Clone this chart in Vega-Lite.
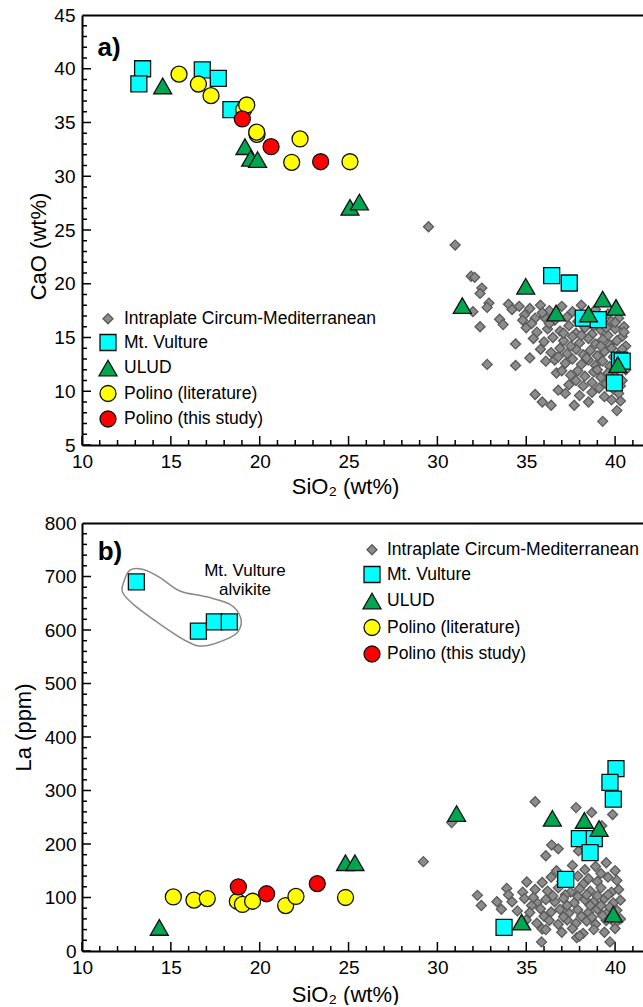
{
  "$schema": "https://vega.github.io/schema/vega-lite/v6.json",
  "padding": {"left": 12, "top": 6, "right": 0, "bottom": 0},
  "bounds": "flush",
  "spacing": 78,
  "resolve": {"scale": {"shape": "independent", "fill": "independent", "stroke": "independent", "size": "independent"}},
  "config": {
    "view": {"stroke": null},
    "font": "Liberation Sans",
    "axis": {
      "domainColor": "black", "domainWidth": 2, "ticks": false,
      "labelFontSize": 19, "labelColor": "black", "labelFont": "Liberation Sans",
      "titleFontSize": 22, "titleFontWeight": "normal", "titleColor": "black", "titleFont": "Liberation Sans",
      "labelFlush": false, "labelOverlap": false, "labelBound": false, "titleBaseline": "middle"
    },
    "legend": {
      "orient": "none", "title": null, "padding": 0, "labelFontSize": 17.5, "labelColor": "black",
      "labelFont": "Liberation Sans", "rowPadding": 3.5, "labelOffset": 6, "symbolStrokeWidth": 1.3, "labelLimit": 500
    }
  },
  "datasets": {
    "xmaj": [{"v":10},{"v":15},{"v":20},{"v":25},{"v":30},{"v":35},{"v":40}],
    "xmin": [{"v":11},{"v":12},{"v":13},{"v":14},{"v":16},{"v":17},{"v":18},{"v":19},{"v":21},{"v":22},{"v":23},{"v":24},{"v":26},{"v":27},{"v":28},{"v":29},{"v":31},{"v":32},{"v":33},{"v":34},{"v":36},{"v":37},{"v":38},{"v":39},{"v":41}],
    "yamaj": [{"v":5},{"v":10},{"v":15},{"v":20},{"v":25},{"v":30},{"v":35},{"v":40}],
    "yamin": [{"v":6},{"v":7},{"v":8},{"v":9},{"v":11},{"v":12},{"v":13},{"v":14},{"v":16},{"v":17},{"v":18},{"v":19},{"v":21},{"v":22},{"v":23},{"v":24},{"v":26},{"v":27},{"v":28},{"v":29},{"v":31},{"v":32},{"v":33},{"v":34},{"v":36},{"v":37},{"v":38},{"v":39},{"v":41},{"v":42},{"v":43},{"v":44}],
    "ybmaj": [{"v":0},{"v":100},{"v":200},{"v":300},{"v":400},{"v":500},{"v":600},{"v":700}],
    "ybmin": [{"v":20},{"v":40},{"v":60},{"v":80},{"v":120},{"v":140},{"v":160},{"v":180},{"v":220},{"v":240},{"v":260},{"v":280},{"v":320},{"v":340},{"v":360},{"v":380},{"v":420},{"v":440},{"v":460},{"v":480},{"v":520},{"v":540},{"v":560},{"v":580},{"v":620},{"v":640},{"v":660},{"v":680},{"v":720},{"v":740},{"v":760},{"v":780}],
    "a": [
      {"g":"I","x":29.5,"y":25.3},{"g":"I","x":31.0,"y":23.6},{"g":"I","x":31.9,"y":20.7},{"g":"I","x":32.1,"y":20.6},{"g":"I","x":32.5,"y":19.6},{"g":"I","x":32.4,"y":19.1},{"g":"I","x":32.9,"y":18.2},{"g":"I","x":32.8,"y":17.8},{"g":"I","x":32.0,"y":17.4},{"g":"I","x":32.4,"y":16.0},{"g":"I","x":32.8,"y":12.5},{"g":"I","x":33.5,"y":16.7},{"g":"I","x":33.7,"y":16.2},{"g":"I","x":34.0,"y":18.1},{"g":"I","x":34.2,"y":17.6},{"g":"I","x":34.4,"y":14.4},{"g":"I","x":34.4,"y":12.4},{"g":"I","x":35.2,"y":13.1},{"g":"I","x":35.5,"y":9.7},{"g":"I","x":35.9,"y":9.0},{"g":"I","x":36.4,"y":8.7},{"g":"I","x":37.7,"y":8.7},{"g":"I","x":38.5,"y":9.0},{"g":"I","x":39.3,"y":7.2},{"g":"I","x":40.1,"y":8.2},{"g":"I","x":40.3,"y":9.1},{"g":"I","x":36.8,"y":10.1},{"g":"I","x":36.7,"y":11.7},{"g":"I","x":36.1,"y":12.8},
      {"g":"I","x":34.6,"y":17.9},{"g":"I","x":35.2,"y":17.7},{"g":"I","x":35.8,"y":18.0},{"g":"I","x":36.3,"y":17.5},{"g":"I","x":37.0,"y":17.9},{"g":"I","x":37.6,"y":17.4},{"g":"I","x":38.1,"y":18.0},{"g":"I","x":38.9,"y":17.6},{"g":"I","x":39.6,"y":17.2},{"g":"I","x":40.2,"y":16.8},
      {"g":"I","x":34.9,"y":17.1},{"g":"I","x":35.5,"y":16.8},{"g":"I","x":36.0,"y":16.9},{"g":"I","x":36.6,"y":16.6},{"g":"I","x":37.3,"y":16.9},{"g":"I","x":37.9,"y":16.5},{"g":"I","x":38.4,"y":16.7},{"g":"I","x":39.1,"y":16.3},{"g":"I","x":39.8,"y":16.5},{"g":"I","x":40.5,"y":16.0},
      {"g":"I","x":35.0,"y":15.9},{"g":"I","x":35.6,"y":15.5},{"g":"I","x":36.2,"y":15.8},{"g":"I","x":36.9,"y":15.6},{"g":"I","x":37.4,"y":16.1},{"g":"I","x":37.8,"y":15.4},{"g":"I","x":38.3,"y":15.9},{"g":"I","x":38.7,"y":15.3},{"g":"I","x":39.2,"y":15.7},{"g":"I","x":39.6,"y":15.2},{"g":"I","x":40.0,"y":15.8},{"g":"I","x":40.4,"y":15.1},
      {"g":"I","x":35.4,"y":14.9},{"g":"I","x":36.0,"y":14.6},{"g":"I","x":36.5,"y":15.0},{"g":"I","x":37.1,"y":14.7},{"g":"I","x":37.6,"y":15.1},{"g":"I","x":38.0,"y":14.5},{"g":"I","x":38.5,"y":14.9},{"g":"I","x":38.9,"y":14.4},{"g":"I","x":39.3,"y":14.8},{"g":"I","x":39.7,"y":14.3},{"g":"I","x":40.1,"y":14.7},{"g":"I","x":40.6,"y":14.2},
      {"g":"I","x":35.8,"y":13.9},{"g":"I","x":36.4,"y":13.6},{"g":"I","x":36.9,"y":14.0},{"g":"I","x":37.3,"y":13.5},{"g":"I","x":37.8,"y":13.9},{"g":"I","x":38.2,"y":13.4},{"g":"I","x":38.6,"y":13.8},{"g":"I","x":39.0,"y":13.3},{"g":"I","x":39.4,"y":13.7},{"g":"I","x":39.9,"y":13.2},{"g":"I","x":40.3,"y":13.6},
      {"g":"I","x":36.6,"y":12.9},{"g":"I","x":37.2,"y":12.6},{"g":"I","x":37.6,"y":13.0},{"g":"I","x":38.1,"y":12.5},{"g":"I","x":38.5,"y":12.9},{"g":"I","x":38.9,"y":12.4},{"g":"I","x":39.3,"y":12.8},{"g":"I","x":39.7,"y":12.3},{"g":"I","x":40.2,"y":12.2},{"g":"I","x":40.5,"y":12.6},
      {"g":"I","x":37.0,"y":11.9},{"g":"I","x":37.5,"y":11.5},{"g":"I","x":37.9,"y":11.9},{"g":"I","x":38.3,"y":11.4},{"g":"I","x":38.8,"y":11.8},{"g":"I","x":39.2,"y":11.3},{"g":"I","x":39.6,"y":11.7},{"g":"I","x":40.0,"y":11.4},{"g":"I","x":40.4,"y":11.0},
      {"g":"I","x":37.4,"y":10.6},{"g":"I","x":37.8,"y":11.0},{"g":"I","x":38.2,"y":10.5},{"g":"I","x":38.7,"y":10.8},{"g":"I","x":39.1,"y":10.3},{"g":"I","x":39.5,"y":10.7},{"g":"I","x":39.9,"y":10.2},{"g":"I","x":40.3,"y":10.5},
      {"g":"I","x":37.2,"y":9.8},{"g":"I","x":38.0,"y":9.6},{"g":"I","x":38.7,"y":9.9},{"g":"I","x":39.4,"y":9.5},{"g":"I","x":39.8,"y":9.2},{"g":"I","x":40.2,"y":9.8},
      {"g":"I","x":39.5,"y":15.9},{"g":"I","x":40.0,"y":16.4},{"g":"I","x":40.5,"y":15.5},{"g":"I","x":39.2,"y":14.2},{"g":"I","x":39.8,"y":14.0},{"g":"I","x":40.4,"y":13.9},{"g":"I","x":38.8,"y":16.1},{"g":"I","x":38.1,"y":15.2},{"g":"I","x":37.5,"y":14.2},{"g":"I","x":36.8,"y":13.2},{"g":"I","x":40.6,"y":12.0},{"g":"I","x":39.0,"y":12.0},{"g":"I","x":38.4,"y":13.1},{"g":"I","x":37.1,"y":15.4},{"g":"I","x":36.3,"y":16.3},{"g":"I","x":35.9,"y":17.3},{"g":"I","x":35.3,"y":16.3},{"g":"I","x":34.8,"y":16.6},
      {"g":"V","x":13.41,"y":40.0},{"g":"V","x":13.2,"y":38.6},{"g":"V","x":16.77,"y":39.9},{"g":"V","x":17.67,"y":39.1},{"g":"V","x":18.38,"y":36.2},{"g":"V","x":36.43,"y":20.75},{"g":"V","x":37.42,"y":20.07},{"g":"V","x":38.21,"y":16.8},{"g":"V","x":39.05,"y":16.66},{"g":"V","x":40.25,"y":12.9},{"g":"V","x":40.4,"y":12.8},{"g":"V","x":39.96,"y":10.77},
      {"g":"U","x":14.54,"y":38.4},{"g":"U","x":19.17,"y":32.75},{"g":"U","x":19.49,"y":31.67},{"g":"U","x":19.88,"y":31.55},{"g":"U","x":25.08,"y":27.1},{"g":"U","x":25.61,"y":27.6},{"g":"U","x":31.4,"y":17.96},{"g":"U","x":34.97,"y":19.76},{"g":"U","x":36.68,"y":17.28},{"g":"U","x":38.5,"y":17.19},{"g":"U","x":39.3,"y":18.58},{"g":"U","x":40.05,"y":17.8},{"g":"U","x":40.15,"y":12.47},
      {"g":"PL","x":15.46,"y":39.5},{"g":"PL","x":16.55,"y":38.58},{"g":"PL","x":17.26,"y":37.5},{"g":"PL","x":19.1,"y":36.2},{"g":"PL","x":19.27,"y":36.63},{"g":"PL","x":19.85,"y":33.9},{"g":"PL","x":19.83,"y":34.1},{"g":"PL","x":22.27,"y":33.47},{"g":"PL","x":21.8,"y":31.3},{"g":"PL","x":25.08,"y":31.35},
      {"g":"PS","x":19.02,"y":35.33},{"g":"PS","x":20.64,"y":32.75},{"g":"PS","x":23.43,"y":31.35}
    ],
    "b": [
      {"g":"I","x":29.21,"y":167},{"g":"I","x":30.8,"y":240},{"g":"I","x":35.5,"y":279},{"g":"I","x":37.8,"y":268},{"g":"I","x":38.68,"y":259},{"g":"I","x":39.86,"y":255},{"g":"I","x":39.25,"y":234},{"g":"I","x":36.43,"y":198},{"g":"I","x":36.8,"y":191},{"g":"I","x":36.1,"y":178},{"g":"I","x":37.94,"y":187},{"g":"I","x":32.25,"y":104},{"g":"I","x":32.47,"y":85},{"g":"I","x":33.9,"y":117},{"g":"I","x":35.03,"y":129},{"g":"I","x":35.9,"y":41},{"g":"I","x":35.86,"y":17},{"g":"I","x":39.71,"y":17},{"g":"I","x":37.84,"y":25},{"g":"I","x":33.35,"y":92},
      {"g":"I","x":36.7,"y":150},{"g":"I","x":37.6,"y":160},{"g":"I","x":38.3,"y":152},{"g":"I","x":38.9,"y":158},{"g":"I","x":39.5,"y":165},{"g":"I","x":40.0,"y":150},{"g":"I","x":39.2,"y":145},
      {"g":"I","x":35.9,"y":128},{"g":"I","x":36.4,"y":138},{"g":"I","x":37.0,"y":130},{"g":"I","x":37.9,"y":140},{"g":"I","x":38.5,"y":135},{"g":"I","x":39.0,"y":130},{"g":"I","x":39.6,"y":138},{"g":"I","x":40.1,"y":132},{"g":"I","x":38.2,"y":125},
      {"g":"I","x":34.8,"y":110},{"g":"I","x":35.5,"y":115},{"g":"I","x":36.2,"y":112},{"g":"I","x":36.8,"y":118},{"g":"I","x":37.5,"y":110},{"g":"I","x":38.0,"y":116},{"g":"I","x":38.6,"y":112},{"g":"I","x":39.2,"y":118},{"g":"I","x":39.8,"y":110},{"g":"I","x":40.2,"y":115},{"g":"I","x":37.2,"y":105},
      {"g":"I","x":34.2,"y":92},{"g":"I","x":34.9,"y":98},{"g":"I","x":35.6,"y":90},{"g":"I","x":36.1,"y":96},{"g":"I","x":36.6,"y":92},{"g":"I","x":37.1,"y":98},{"g":"I","x":37.7,"y":90},{"g":"I","x":38.3,"y":96},{"g":"I","x":38.8,"y":92},{"g":"I","x":39.4,"y":98},{"g":"I","x":39.9,"y":90},{"g":"I","x":40.3,"y":95},{"g":"I","x":35.3,"y":85},
      {"g":"I","x":33.6,"y":78},{"g":"I","x":34.5,"y":75},{"g":"I","x":35.2,"y":72},{"g":"I","x":35.8,"y":79},{"g":"I","x":36.4,"y":73},{"g":"I","x":36.9,"y":78},{"g":"I","x":37.4,"y":71},{"g":"I","x":37.9,"y":77},{"g":"I","x":38.5,"y":72},{"g":"I","x":39.0,"y":78},{"g":"I","x":39.6,"y":73},{"g":"I","x":40.1,"y":76},{"g":"I","x":36.0,"y":65},
      {"g":"I","x":35.0,"y":58},{"g":"I","x":35.6,"y":52},{"g":"I","x":36.3,"y":57},{"g":"I","x":36.8,"y":50},{"g":"I","x":37.3,"y":58},{"g":"I","x":37.8,"y":52},{"g":"I","x":38.4,"y":56},{"g":"I","x":38.9,"y":50},{"g":"I","x":39.5,"y":57},{"g":"I","x":40.0,"y":52},{"g":"I","x":40.3,"y":60},
      {"g":"I","x":36.1,"y":40},{"g":"I","x":37.0,"y":35},{"g":"I","x":37.6,"y":42},{"g":"I","x":38.2,"y":33},{"g":"I","x":38.8,"y":40},{"g":"I","x":39.4,"y":35},{"g":"I","x":40.0,"y":42},{"g":"I","x":38.0,"y":28},
      {"g":"I","x":38.6,"y":85},{"g":"I","x":39.2,"y":85},{"g":"I","x":39.7,"y":82},{"g":"I","x":37.3,"y":85},{"g":"I","x":37.9,"y":102},{"g":"I","x":38.4,"y":105},{"g":"I","x":39.0,"y":103},{"g":"I","x":39.6,"y":105},{"g":"I","x":36.5,"y":103},{"g":"I","x":38.1,"y":65},{"g":"I","x":38.7,"y":63},{"g":"I","x":39.3,"y":66},{"g":"I","x":39.8,"y":62},{"g":"I","x":37.1,"y":64},{"g":"I","x":35.4,"y":100},{"g":"I","x":34.0,"y":105},
      {"g":"V","x":13.06,"y":690},{"g":"V","x":16.55,"y":598},{"g":"V","x":17.45,"y":615},{"g":"V","x":18.29,"y":615},{"g":"V","x":40.05,"y":341},{"g":"V","x":39.71,"y":315},{"g":"V","x":39.9,"y":284},{"g":"V","x":37.99,"y":210},{"g":"V","x":38.83,"y":210},{"g":"V","x":38.59,"y":184},{"g":"V","x":37.22,"y":134},{"g":"V","x":33.75,"y":44},
      {"g":"U","x":14.35,"y":44},{"g":"U","x":31.08,"y":257},{"g":"U","x":24.83,"y":165},{"g":"U","x":25.36,"y":165},{"g":"U","x":36.47,"y":248},{"g":"U","x":38.27,"y":244},{"g":"U","x":39.1,"y":229},{"g":"U","x":34.74,"y":54},{"g":"U","x":39.9,"y":69},
      {"g":"PL","x":15.14,"y":101},{"g":"PL","x":16.3,"y":95},{"g":"PL","x":17.05,"y":98},{"g":"PL","x":18.74,"y":93},{"g":"PL","x":19.03,"y":87},{"g":"PL","x":19.6,"y":93},{"g":"PL","x":21.46,"y":85},{"g":"PL","x":22.04,"y":102},{"g":"PL","x":24.83,"y":100},
      {"g":"PS","x":18.8,"y":120},{"g":"PS","x":20.39,"y":107},{"g":"PS","x":23.24,"y":126}
    ],
    "outline": [
      {"i":1,"x":12.33,"y":688},{"i":2,"x":12.7,"y":712},{"i":3,"x":13.45,"y":713},{"i":4,"x":14.39,"y":698},{"i":5,"x":15.51,"y":673},{"i":6,"x":17.02,"y":662},{"i":7,"x":18.33,"y":648},{"i":8,"x":18.93,"y":623},{"i":9,"x":18.8,"y":598},{"i":10,"x":18.14,"y":583},{"i":11,"x":16.83,"y":570},{"i":12,"x":15.89,"y":579},{"i":13,"x":14.39,"y":611},{"i":14,"x":12.89,"y":648},{"i":15,"x":12.29,"y":670}
    ],
    "ann": [
      {"x":19.17,"y":711,"t":"Mt. Vulture"},{"x":19.17,"y":674,"t":"alvikite"}
    ]
  },
  "vconcat": [
    {
      "width": 561, "height": 430,
      "layer": [
        {
          "data": {"name": "xmaj"}, "mark": {"type": "tick", "orient": "vertical", "size": 9, "thickness": 1.5, "yOffset": -4.5, "color": "black", "opacity": 1},
          "encoding": {"x": {"field": "v", "type": "quantitative"}, "y": {"datum": 5}}
        },
        {
          "data": {"name": "xmin"}, "mark": {"type": "tick", "orient": "vertical", "size": 5, "thickness": 1.5, "yOffset": -2.5, "color": "black", "opacity": 1},
          "encoding": {"x": {"field": "v", "type": "quantitative"}, "y": {"datum": 5}}
        },
        {
          "data": {"name": "yamaj"}, "mark": {"type": "tick", "orient": "horizontal", "size": 9, "thickness": 1.5, "xOffset": 4.5, "color": "black", "opacity": 1},
          "encoding": {"y": {"field": "v", "type": "quantitative"}, "x": {"datum": 10}}
        },
        {
          "data": {"name": "yamin"}, "mark": {"type": "tick", "orient": "horizontal", "size": 5, "thickness": 1.5, "xOffset": 2.5, "color": "black", "opacity": 1},
          "encoding": {"y": {"field": "v", "type": "quantitative"}, "x": {"datum": 10}}
        },
        {
          "data": {"name": "a"},
          "mark": {"type": "point", "filled": true, "opacity": 1, "strokeWidth": 1.3},
          "encoding": {
            "x": {"field": "x", "type": "quantitative", "scale": {"domain": [10, 41.57], "nice": false, "zero": false},
              "axis": {"title": "SiO₂ (wt%)", "values": [10,15,20,25,30,35,40], "format": "d",
                "labelPadding": 7, "grid": false, "titleX": 263, "titleY": 41}},
            "y": {"field": "y", "type": "quantitative", "scale": {"domain": [5, 45], "nice": false, "zero": false},
              "axis": {"title": "CaO (wt%)", "values": [5,10,15,20,25,30,35,40,45], "format": "d",
                "labelPadding": 7, "grid": true, "gridColor": "black", "gridWidth": 2,
                "gridOpacity": {"condition": {"test": "datum.value === 45", "value": 1}, "value": 0},
                "titleX": -44, "titleY": 231, "titleAngle": -90}},
            "shape": {"field": "g", "type": "nominal", "scale": {"domain": ["I","V","U","PL","PS"], "range": ["diamond","square","triangle-up","circle","circle"]},
              "legend": {"legendX": 16, "legendY": 295,
                "labelExpr": "datum.label == 'I' ? 'Intraplate Circum-Mediterranean' : datum.label == 'V' ? 'Mt. Vulture' : datum.label == 'U' ? 'ULUD' : datum.label == 'PL' ? 'Polino (literature)' : 'Polino (this study)'"}},
            "fill": {"field": "g", "type": "nominal", "scale": {"domain": ["I","V","U","PL","PS"], "range": ["#8c8c8c","#00FFFF","#00A651","#FFFF00","#FF0000"]}},
            "stroke": {"field": "g", "type": "nominal", "scale": {"domain": ["I","V","U","PL","PS"], "range": ["#5a5a5a","#111111","#111111","#111111","#111111"]}},
            "size": {"field": "g", "type": "nominal", "scale": {"type": "ordinal", "domain": ["I","V","U","PL","PS"], "range": [100,256,324,256,256]}}
          }
        },
        {
          "data": {"values": [{"x": 11.52, "y": 41.9, "t": "a)"}]},
          "mark": {"type": "text", "fontSize": 26, "fontWeight": "bold", "font": "Liberation Sans", "align": "center", "baseline": "middle", "color": "black"},
          "encoding": {"x": {"field": "x", "type": "quantitative"}, "y": {"field": "y", "type": "quantitative"}, "text": {"field": "t"}}
        }
      ]
    },
    {
      "width": 561, "height": 428,
      "layer": [
        {
          "data": {"name": "xmaj"}, "mark": {"type": "tick", "orient": "vertical", "size": 9, "thickness": 1.5, "yOffset": -4.5, "color": "black", "opacity": 1},
          "encoding": {"x": {"field": "v", "type": "quantitative"}, "y": {"datum": 0}}
        },
        {
          "data": {"name": "xmin"}, "mark": {"type": "tick", "orient": "vertical", "size": 5, "thickness": 1.5, "yOffset": -2.5, "color": "black", "opacity": 1},
          "encoding": {"x": {"field": "v", "type": "quantitative"}, "y": {"datum": 0}}
        },
        {
          "data": {"name": "ybmaj"}, "mark": {"type": "tick", "orient": "horizontal", "size": 9, "thickness": 1.5, "xOffset": 4.5, "color": "black", "opacity": 1},
          "encoding": {"y": {"field": "v", "type": "quantitative"}, "x": {"datum": 10}}
        },
        {
          "data": {"name": "ybmin"}, "mark": {"type": "tick", "orient": "horizontal", "size": 5, "thickness": 1.5, "xOffset": 2.5, "color": "black", "opacity": 1},
          "encoding": {"y": {"field": "v", "type": "quantitative"}, "x": {"datum": 10}}
        },
        {
          "data": {"name": "outline"},
          "mark": {"type": "line", "interpolate": "cardinal-closed", "stroke": "#8a8a8a", "strokeWidth": 1.5},
          "encoding": {"x": {"field": "x", "type": "quantitative"}, "y": {"field": "y", "type": "quantitative"}, "order": {"field": "i", "type": "quantitative"}}
        },
        {
          "data": {"name": "b"},
          "mark": {"type": "point", "filled": true, "opacity": 1, "strokeWidth": 1.3},
          "encoding": {
            "x": {"field": "x", "type": "quantitative", "scale": {"domain": [10, 41.57], "nice": false, "zero": false},
              "axis": {"title": "SiO₂ (wt%)", "values": [10,15,20,25,30,35,40], "format": "d",
                "labelPadding": 7, "grid": false, "titleX": 263, "titleY": 43}},
            "y": {"field": "y", "type": "quantitative", "scale": {"domain": [0, 800], "nice": false, "zero": false},
              "axis": {"title": "La (ppm)", "values": [0,100,200,300,400,500,600,700,800], "format": "d",
                "labelPadding": 6, "grid": true, "gridColor": "black", "gridWidth": 2,
                "gridOpacity": {"condition": {"test": "datum.value === 800", "value": 1}, "value": 0},
                "titleX": -59, "titleY": 204, "titleAngle": -90}},
            "shape": {"field": "g", "type": "nominal", "scale": {"domain": ["I","V","U","PL","PS"], "range": ["diamond","square","triangle-up","circle","circle"]},
              "legend": {"legendX": 280, "legendY": 18, "labelOffset": 5, "rowPadding": 4.5,
                "labelExpr": "datum.label == 'I' ? 'Intraplate Circum-Mediterranean' : datum.label == 'V' ? 'Mt. Vulture' : datum.label == 'U' ? 'ULUD' : datum.label == 'PL' ? 'Polino (literature)' : 'Polino (this study)'"}},
            "fill": {"field": "g", "type": "nominal", "scale": {"domain": ["I","V","U","PL","PS"], "range": ["#8c8c8c","#00FFFF","#00A651","#FFFF00","#FF0000"]}},
            "stroke": {"field": "g", "type": "nominal", "scale": {"domain": ["I","V","U","PL","PS"], "range": ["#5a5a5a","#111111","#111111","#111111","#111111"]}},
            "size": {"field": "g", "type": "nominal", "scale": {"type": "ordinal", "domain": ["I","V","U","PL","PS"], "range": [100,256,324,256,256]}}
          }
        },
        {
          "data": {"values": [{"x": 11.57, "y": 745, "t": "b)"}]},
          "mark": {"type": "text", "fontSize": 26, "fontWeight": "bold", "font": "Liberation Sans", "align": "center", "baseline": "middle", "color": "black"},
          "encoding": {"x": {"field": "x", "type": "quantitative"}, "y": {"field": "y", "type": "quantitative"}, "text": {"field": "t"}}
        },
        {
          "data": {"name": "ann"},
          "mark": {"type": "text", "fontSize": 17, "font": "Liberation Sans", "align": "center", "baseline": "middle", "color": "black"},
          "encoding": {"x": {"field": "x", "type": "quantitative"}, "y": {"field": "y", "type": "quantitative"}, "text": {"field": "t"}}
        }
      ]
    }
  ]
}
